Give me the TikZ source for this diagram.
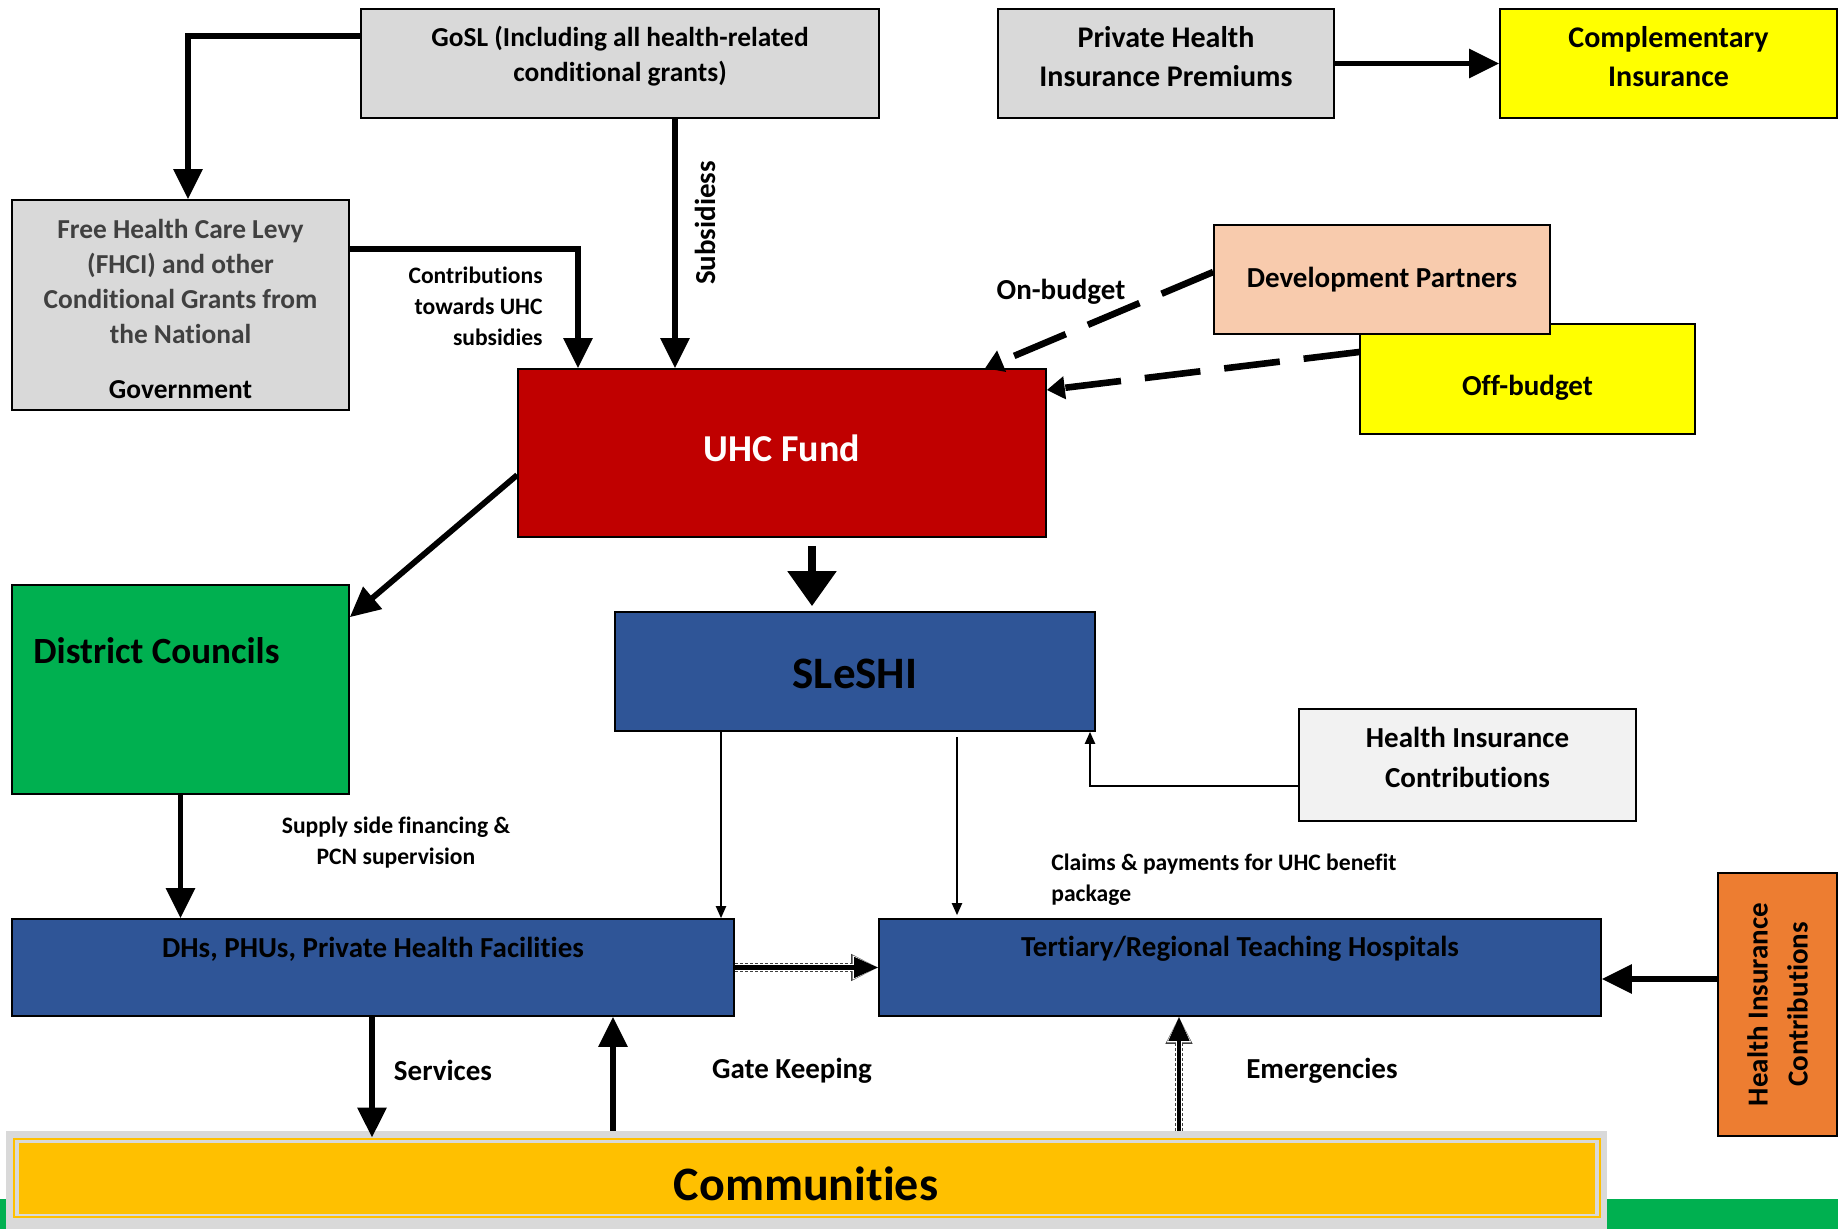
\documentclass[tikz,border=0pt]{standalone}
\usepackage{fontspec}
\setmainfont{Carlito}[Ligatures={NoCommon}]
\usetikzlibrary{arrows.meta}

\definecolor{boxgray}{HTML}{D9D9D9}
\definecolor{palegray}{HTML}{F2F2F2}
\definecolor{brightyellow}{HTML}{FFFF00}
\definecolor{peach}{HTML}{F8CBAD}
\definecolor{fundred}{HTML}{C00000}
\definecolor{dcgreen}{HTML}{00B050}
\definecolor{facblue}{HTML}{2F5597}
\definecolor{hiorange}{HTML}{ED7D31}
\definecolor{commyellow}{HTML}{FFC000}
\definecolor{textgray}{HTML}{404040}

\newcommand\fsHead{\fontsize{13.7}{17.6}\selectfont\bfseries}
\newcommand\fsBox{\fontsize{15}{19.5}\selectfont\bfseries}
\newcommand\fsMid{\fontsize{14.5}{20}\selectfont\bfseries}
\newcommand\fsSmall{\fontsize{11.8}{15.5}\selectfont\bfseries}
\newcommand\fsFund{\fontsize{19}{23}\selectfont\bfseries}
\newcommand\fsShi{\fontsize{22.5}{27}\selectfont\bfseries}
\newcommand\fsDc{\fontsize{18.5}{22}\selectfont\bfseries}
\newcommand\fsComm{\fontsize{24}{28}\selectfont\bfseries}

\tikzset{
  box/.style={draw=black, line width=0.8pt, inner sep=0pt, align=center},
  lbl/.style={inner sep=0pt, align=center},
  flow/.style={line width=2.9pt, -{Triangle[length=15pt,width=14pt]}},
  bigflow/.style={line width=4.2pt, -{Triangle[length=17.5pt,width=23.5pt]}},
  thinflow/.style={line width=1pt, -{Triangle[length=6pt,width=5pt]}},
  dashflow/.style={line width=3.3pt, dash pattern=on 28pt off 12pt, -{Triangle[length=9pt,width=11pt]}},
  dotflow/.style={line width=2.1pt, -{Triangle[length=12pt,width=10pt]},
    preaction={draw, black!75, line width=4.4pt, dash pattern=on 1.5pt off 1pt, -{Triangle[length=13.5pt,width=12.5pt]}},
    preaction={draw, white, line width=3.1pt, -{Triangle[length=12.8pt,width=11.2pt]}}}
}

\begin{document}
\begin{tikzpicture}[x=0.5pt, y=-0.5pt]
\useasboundingbox (0,0) rectangle (1838,1229);
% green band along the bottom
\fill[dcgreen] (0,1199) rectangle (1838,1229);

% top row
\node[box, fill=boxgray, minimum width=259pt, minimum height=54.5pt] (gosl) at (620,63.5) {};
\node[lbl, font=\fsHead] (gosltext) at (620,56) {GoSL (Including all health-related\\conditional grants)};
\node[box, fill=boxgray, minimum width=168pt, minimum height=54.5pt] (phip) at (1166,63.5) {};
\node[lbl, font=\fsBox] (phiptext) at (1166,57) {Private Health\\Insurance Premiums};
\node[box, fill=brightyellow, minimum width=168.5pt, minimum height=54.5pt] (comp) at (1668.5,63.5) {};
\node[lbl, font=\fsBox] (comptext) at (1668.5,57) {Complementary\\Insurance};

% government grants
\node[box, fill=boxgray, minimum width=168.5pt, minimum height=105pt] (fhcl) at (180.5,305) {};
\node[lbl, font=\fsHead, text=textgray] (fhcltext) at (180.5,309)
  {Free Health Care Levy\\(FHCI) and other\\Conditional Grants from\\the National\\[10pt]\textcolor{black}{Government}};

% partners
\node[box, fill=brightyellow, minimum width=167.5pt, minimum height=55pt] (offb) at (1527.5,379) {};
\node[lbl, font=\fsMid] (offbtext) at (1527.5,388) {Off-budget};
\node[box, fill=peach, minimum width=168pt, minimum height=54.5pt, font=\fsMid] (dp) at (1382,279.5) {Development Partners};

% fund
\node[box, fill=fundred, minimum width=264pt, minimum height=84pt] (uhc) at (782,453) {};
\node[lbl, font=\fsFund, text=white] (uhctext) at (782,448) {UHC Fund};

% middle
\node[box, fill=dcgreen, minimum width=168.5pt, minimum height=104.5pt] (dc) at (180.5,689.5) {};
\node[lbl, anchor=west, font=\fsDc] (dctext) at (33,651) {District Councils};
\node[box, fill=facblue, minimum width=240pt, minimum height=59.5pt] (sleshi) at (855,671.5) {};
\node[lbl, font=\fsShi] (sleshitext) at (855,674) {SLeSHI};
\node[box, fill=palegray, minimum width=168.5pt, minimum height=56pt] (hic) at (1467.5,765) {};
\node[lbl, font=\fsMid] (hictext) at (1467.5,757) {Health Insurance\\Contributions};

% facilities
\node[box, fill=facblue, minimum width=361pt, minimum height=48.5pt] (dhs) at (373,967.5) {};
\node[lbl, font=\fsMid] (dhstext) at (373,949) {DHs, PHUs, Private Health Facilities};
\node[box, fill=facblue, minimum width=361pt, minimum height=48.5pt] (tert) at (1240,967.5) {};
\node[lbl, font=\fsMid] (terttext) at (1240,949) {Tertiary/Regional Teaching Hospitals};
\node[box, fill=hiorange, minimum width=59.5pt, minimum height=131.5pt] (hico) at (1777.5,1004.5) {};
\node[lbl, rotate=90, font=\fsMid] (hicotext) at (1777.5,1004.5) {Health Insurance\\Contributions};

% communities
\node[fill=boxgray, minimum width=800.5pt, minimum height=49pt, inner sep=0pt] (comm) at (806.5,1180) {};
\draw[commyellow, line width=1.3pt] (14,1139) rectangle (1600,1217);
\fill[commyellow] (19,1143) rectangle (1595,1214);
\node[lbl, font=\fsComm] (commtext) at (806,1184) {Communities};

% flows into the fund
\draw[flow] ([yshift=13.75pt]gosl.west) -| ([xshift=3.75pt]fhcl.north);
\draw[flow] (gosl.south -| 675,0) -- (uhc.north -| 675,0);
\node[lbl, rotate=90, font=\fsMid] (subs) at (705,223) {Subsidiess};
\draw[flow] ([yshift=28pt]fhcl.east) -| (uhc.north -| 578,0);
\node[lbl, align=right, anchor=east, font=\fsSmall] (contrib) at (543,306) {Contributions\\towards UHC\\subsidies};
\draw[flow] (phip) -- (comp);
\draw[dashflow] ([yshift=3.75pt]dp.west) -- (uhc.north -| 985,0);
\node[lbl, font=\fsMid] (onb) at (1061,292) {On-budget};
\draw[dashflow] ([yshift=13.5pt]offb.west) -- ([yshift=31.5pt]uhc.east);

% flows out of the fund
\draw[flow] ([yshift=-11pt]uhc.west) -- ([yshift=-16.5pt]dc.north east);
\draw[bigflow, shorten <=4pt, shorten >=2.5pt] (uhc.south -| 812,0) -- (sleshi.north -| 812,0);
\draw[thinflow] (sleshi.south -| 721,0) -- (dhs.north -| 721,0);
\draw[thinflow, shorten <=2.5pt, shorten >=1.5pt] (sleshi.south -| 957,0) -- (tert.north -| 957,0);
\draw[thinflow] ([yshift=-10.5pt]hic.west) -| (sleshi.south -| 1090,0);
\node[lbl, align=left, anchor=west, font=\fsSmall] (claims) at (1051,880) {Claims \& payments for UHC benefit\\package};
\draw[flow] (dc.south) -- (dhs.north -| dc.south);
\node[lbl, font=\fsSmall] (supply) at (396,843) {Supply side financing \&\\PCN supervision};
\draw[dotflow] (dhs.east) -- (tert.west);
\draw[flow] (hico.west |- 0,979) -- (tert.east |- 0,979);

% communities
\draw[flow, shorten >=-3.5pt] (dhs.south -| 372,0) -- (comm.north -| 372,0);
\node[lbl, font=\fsMid] (svc) at (443,1070) {Services};
\draw[flow] (comm.north -| 613,0) -- (dhs.south -| 613,0);
\node[lbl, font=\fsMid] (gate) at (792,1071) {Gate Keeping};
\draw[dotflow] (comm.north -| 1179,0) -- (tert.south -| 1179,0);
\node[lbl, font=\fsMid] (emerg) at (1322,1071) {Emergencies};
\end{tikzpicture}
\end{document}
